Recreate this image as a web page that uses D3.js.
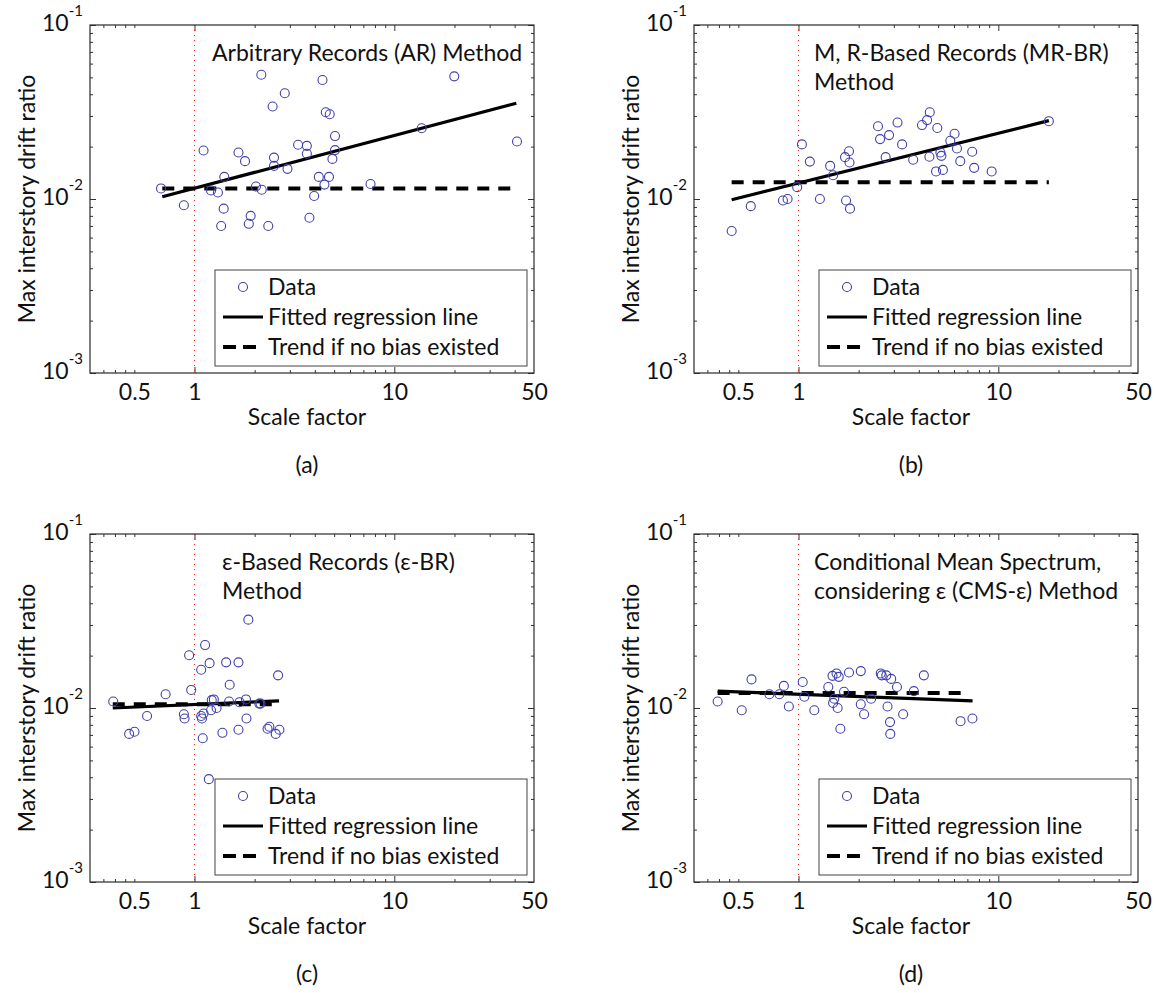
<!DOCTYPE html>
<html>
<head>
<meta charset="utf-8">
<script src="https://cdn.jsdelivr.net/npm/d3@7"></script>
<style>
  body { margin: 0; background: #fff; }
  text { font-family: Lato, "Open Sans", sans-serif; fill: #111; }
</style>
</head>
<body>
<div id="chart"></div>
<script>
// scatter data: [scale factor, max interstory drift ratio]
const pointsA = [[0.68,0.0115],[0.885,0.0092],[1.11,0.0190],[1.21,0.0112],[1.31,0.0109],[1.41,0.0134],[1.40,0.0088],
  [1.36,0.0070],[1.66,0.0185],[1.79,0.0165],[1.91,0.0080],[1.87,0.0072],[2.03,0.0118],[2.17,0.0113],[2.16,0.0518],
  [2.34,0.0070],[2.46,0.0340],[2.50,0.0173],[2.50,0.0155],[2.83,0.0405],[2.92,0.0149],[3.30,0.0205],[3.65,0.0202],
  [3.65,0.0182],[3.76,0.0078],[3.97,0.0104],[4.19,0.0134],[4.37,0.0483],[4.47,0.0121],[4.54,0.0315],[4.71,0.0134],
  [4.75,0.0307],[4.90,0.0170],[5.05,0.0230],[5.05,0.0191],[7.60,0.0122],[13.7,0.0255],[19.95,0.0507],[41.1,0.0214]];
const pointsB = [[0.463,0.00655],[0.577,0.0091],[0.836,0.0098],[0.882,0.0100],[0.985,0.0117],[1.04,0.0206],[1.14,0.0164],
  [1.28,0.0100],[1.44,0.0155],[1.49,0.0137],[1.71,0.0174],[1.79,0.0188],[1.80,0.0162],[1.73,0.0098],[1.81,0.0088],
  [2.50,0.0262],[2.56,0.0221],[2.73,0.0174],[2.84,0.0233],[3.13,0.0275],[3.30,0.0206],[3.75,0.0168],[4.15,0.0266],
  [4.40,0.0284],[4.54,0.0315],[4.52,0.0175],[4.95,0.0256],[4.88,0.0144],[5.13,0.0185],[5.19,0.0177],[5.28,0.0147],
  [5.75,0.0216],[6.04,0.0237],[6.21,0.0195],[6.45,0.0165],[7.40,0.0187],[7.57,0.0151],[9.26,0.0144],[17.9,0.0280]];
const pointsC = [[0.392,0.0109],[0.471,0.0071],[0.501,0.0073],[0.579,0.0090],[0.717,0.0120],[0.885,0.0092],[0.892,0.0087],
  [0.94,0.0201],[0.963,0.0127],[1.08,0.0166],[1.13,0.0230],[1.19,0.0181],[1.08,0.0090],[1.09,0.0087],[1.11,0.0093],
  [1.10,0.0067],[1.18,0.0039],[1.21,0.0097],[1.22,0.0111],[1.25,0.0112],[1.29,0.0100],[1.38,0.0072],[1.44,0.0183],
  [1.50,0.0136],[1.49,0.0109],[1.66,0.0183],[1.66,0.0075],[1.68,0.0108],[1.81,0.0112],[1.82,0.0087],[1.86,0.0322],
  [2.11,0.0106],[2.14,0.0106],[2.32,0.0076],[2.37,0.0078],[2.55,0.0071],[2.66,0.0075],[2.62,0.0154]];
const pointsD = [[0.394,0.0109],[0.520,0.0097],[0.582,0.0146],[0.715,0.0120],[0.802,0.0120],[0.845,0.0134],[0.895,0.0102],
  [1.05,0.0141],[1.07,0.0116],[1.20,0.0097],[1.41,0.0132],[1.48,0.0153],[1.49,0.0107],[1.51,0.0113],[1.55,0.0158],
  [1.59,0.0151],[1.57,0.0100],[1.62,0.0076],[1.69,0.0124],[1.79,0.0160],[2.05,0.0163],[2.05,0.0105],[2.13,0.0092],
  [2.31,0.0113],[2.58,0.0158],[2.61,0.0154],[2.75,0.0154],[2.91,0.0147],[2.79,0.0102],[2.87,0.0083],[2.88,0.0071],
  [3.11,0.0132],[3.34,0.0092],[3.78,0.0125],[4.24,0.0154],[6.47,0.0084],[7.42,0.0087]];

// end points of the fitted regression lines and of the no-bias trend
const fitA = [[0.69,0.0103],[40.8,0.0355]];
const fitB = [[0.463,0.0099],[17.9,0.0282]];
const fitC = [[0.39,0.0100],[2.65,0.0110]];
const fitD = [[0.394,0.0125],[7.43,0.0110]];
const noBiasA = [[0.69,0.0115],[41,0.0115]];
const noBiasB = [[0.463,0.0125],[17.9,0.0125]];
const noBiasC = [[0.39,0.0105],[2.65,0.0105]];
const noBiasD = [[0.394,0.0122],[6.8,0.0122]];

const titles = [
  ["Arbitrary Records (AR) Method"],
  ["M, R-Based Records (MR-BR)", "Method"],
  ["\u03b5-Based Records (\u03b5-BR)", "Method"],
  ["Conditional Mean Spectrum,", "considering \u03b5 (CMS-\u03b5) Method"]
];
const panelLabels = ["(a)", "(b)", "(c)", "(d)"];
const legendLabels = ["Data", "Fitted regression line", "Trend if no bias existed"];

// axes
const xDomain = [0.3, 50];
const yDomain = [1e-3, 1e-1];
const xTickLabels = [0.5, 1, 10, 50];
const xMajor = [1, 10];
const xMinor = [0.35, 0.4, 0.45, 0.5, 2, 3, 4, 5, 6, 7, 8, 9, 20, 30, 40];
const yTickLabels = [1e-3, 1e-2, 1e-1];
const yMinor = [2e-3, 3e-3, 4e-3, 5e-3, 6e-3, 7e-3, 8e-3, 9e-3, 2e-2, 3e-2, 4e-2, 5e-2, 6e-2, 7e-2, 8e-2, 9e-2];

const W = 444, H = 348;
const origins = [[90, 25], [694, 25], [90, 534], [694, 534]];
const titleDx = [122, 120, 132, 120];
const fs = 23;

const panels = [
  { points: pointsA, fit: fitA, noBias: noBiasA },
  { points: pointsB, fit: fitB, noBias: noBiasB },
  { points: pointsC, fit: fitC, noBias: noBiasC },
  { points: pointsD, fit: fitD, noBias: noBiasD }
];

const svg = d3.select("#chart").append("svg")
  .attr("width", 1156)
  .attr("height", 993);

const blue = "#4040ac";

panels.forEach((p, i) => {
  const [ox, oy] = origins[i];
  const g = svg.append("g").attr("transform", `translate(${ox},${oy})`);

  const x = d3.scaleLog().domain(xDomain).range([0, W]);
  const y = d3.scaleLog().domain(yDomain).range([H, 0]);

  // inward ticks on all four sides
  const sides = [
    [d3.axisBottom, x, `translate(0,${H})`],
    [d3.axisTop, x, "translate(0,0)"],
    [d3.axisLeft, y, "translate(0,0)"],
    [d3.axisRight, y, `translate(${W},0)`]
  ];
  sides.forEach(([axisFn, sc, tr]) => {
    const isX = sc === x;
    const minor = isX ? xMinor : yMinor;
    const major = isX ? xMajor : yTickLabels;
    [[minor, 3], [major, 6]].forEach(([vals, len]) => {
      const ax = g.append("g").attr("transform", tr)
        .call(axisFn(sc).tickValues(vals).tickSize(-len).tickFormat(""));
      ax.select(".domain").remove();
      ax.selectAll("line").attr("stroke", "#333");
    });
  });

  // red dotted reference at scale factor 1
  g.append("line")
    .attr("x1", x(1)).attr("x2", x(1))
    .attr("y1", 0).attr("y2", H)
    .attr("stroke", "#ff2020")
    .attr("stroke-width", 1)
    .attr("stroke-dasharray", "1,4");

  // frame
  g.append("rect")
    .attr("width", W).attr("height", H)
    .attr("fill", "none")
    .attr("stroke", "#2a2a2a")
    .attr("stroke-width", 1.2);

  // x tick labels
  const xl = g.append("g").attr("transform", `translate(0,${H})`)
    .call(d3.axisBottom(x).tickValues(xTickLabels).tickSize(0).tickPadding(11).tickFormat(d3.format("")));
  xl.select(".domain").remove();
  xl.selectAll("text").attr("font-family", "Lato, sans-serif").attr("font-size", fs).attr("fill", "#111");

  // y tick labels as 10^n
  const yl = g.append("g")
    .call(d3.axisLeft(y).tickValues(yTickLabels).tickSize(0).tickPadding(7).tickFormat(""));
  yl.select(".domain").remove();
  yl.selectAll(".tick text").each(function(d) {
    const t = d3.select(this).attr("dy", "0.5em").attr("font-family", "Lato, sans-serif").attr("fill", "#111");
    t.append("tspan").attr("font-size", fs).text("10");
    t.append("tspan").attr("font-size", 15).attr("dy", "-0.95em").text(String(Math.round(Math.log10(d))));
  });

  const line = d3.line().x(d => x(d[0])).y(d => y(d[1]));

  g.append("path").datum(p.noBias)
    .attr("d", line)
    .attr("fill", "none")
    .attr("stroke", "#000")
    .attr("stroke-width", 4)
    .attr("stroke-dasharray", "12,9");

  g.append("path").datum(p.fit)
    .attr("d", line)
    .attr("fill", "none")
    .attr("stroke", "#000")
    .attr("stroke-width", 3.2);

  g.selectAll("circle.pt").data(p.points).enter()
    .append("circle")
    .attr("class", "pt")
    .attr("cx", d => x(d[0]))
    .attr("cy", d => y(d[1]))
    .attr("r", 4.5)
    .attr("fill", "none")
    .attr("stroke", blue)
    .attr("stroke-width", 1.1);

  // method annotation
  titles[i].forEach((s, k) => {
    g.append("text")
      .attr("x", titleDx[i])
      .attr("y", 36 + k * 29)
      .attr("font-size", fs)
      .text(s);
  });

  // legend
  const lg = g.append("g").attr("transform", "translate(125,245)");
  lg.append("rect")
    .attr("width", 312).attr("height", 96)
    .attr("fill", "#fff")
    .attr("stroke", "#444")
    .attr("stroke-width", 1);
  legendLabels.forEach((lab, k) => {
    const cy = 17 + k * 30;
    if (k === 0) {
      lg.append("circle").attr("cx", 28).attr("cy", cy).attr("r", 4.5)
        .attr("fill", "none").attr("stroke", blue).attr("stroke-width", 1.1);
    } else {
      lg.append("line").attr("x1", 8).attr("x2", k === 1 ? 48 : 41).attr("y1", cy).attr("y2", cy)
        .attr("stroke", "#000")
        .attr("stroke-width", k === 1 ? 3.2 : 4)
        .attr("stroke-dasharray", k === 1 ? null : "13,7");
    }
    lg.append("text").attr("x", 53).attr("y", cy + 8).attr("font-size", fs).text(lab);
  });

  // axis titles and panel letter
  g.append("text")
    .attr("x", 217).attr("y", H + 52)
    .attr("text-anchor", "middle")
    .attr("font-size", fs)
    .text("Scale factor");

  g.append("text")
    .attr("transform", `translate(-55,${H / 2}) rotate(-90)`)
    .attr("text-anchor", "middle")
    .attr("font-size", fs)
    .text("Max interstory drift ratio");

  g.append("text")
    .attr("x", 217).attr("y", H + 100)
    .attr("text-anchor", "middle")
    .attr("font-size", fs)
    .text(panelLabels[i]);
});
</script>
</body>
</html>
